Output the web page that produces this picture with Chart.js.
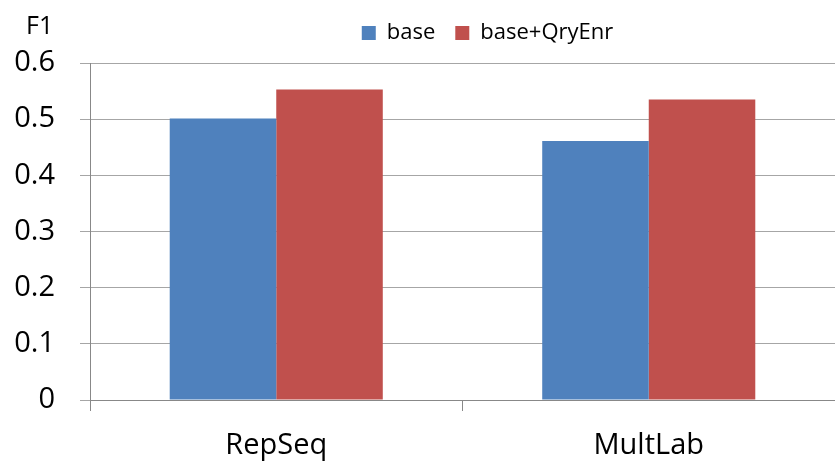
<!DOCTYPE html>
<html>
<head>
<meta charset="utf-8">
<script src="https://cdn.jsdelivr.net/npm/chart.js@4/dist/chart.umd.min.js"></script>
<style>
html,body{margin:0;padding:0;background:#fff;}
#wrap{width:835px;height:465px;position:relative;}
</style>
</head>
<body>
<div id="wrap"><canvas id="c"></canvas></div>
<script>
const categories = ['RepSeq', 'MultLab'];
const seriesNames = ['base', 'base+QryEnr'];
const baseValues = [0.501, 0.461];
const qryEnrValues = [0.553, 0.535];
const yAxisTitle = 'F1';

const FONT = '"Open Sans", "Liberation Sans", sans-serif';

const extras = {
  id: 'extras',
  beforeLayout(chart) {
    const l = chart.legend;
    if (l && !l._patched) {
      const orig = l.fit;
      l.fit = function () { orig.call(this); this.height += 9; };
      l._patched = true;
    }
  },
  afterLayout(chart) {
    const l = chart.legend;
    if (l) { l.left = 140; l.right = 835; }
  },
  afterDraw(chart) {
    const ctx = chart.ctx;
    ctx.save();
    ctx.font = '25px ' + FONT;
    ctx.fillStyle = '#000';
    ctx.textBaseline = 'alphabetic';
    ctx.textAlign = 'left';
    ctx.fillText(yAxisTitle, 26, 34);
    ctx.restore();
  }
};

new Chart(document.getElementById('c'), {
  type: 'bar',
  data: {
    labels: categories,
    datasets: [
      { label: seriesNames[0], data: baseValues, backgroundColor: '#4F81BD', borderWidth: 0 },
      { label: seriesNames[1], data: qryEnrValues, backgroundColor: '#C0504D', borderWidth: 0 }
    ]
  },
  options: {
    responsive: true,
    maintainAspectRatio: false,
    animation: false,
    devicePixelRatio: 1,
    layout: { padding: { top: 2, right: -3, left: 0, bottom: 0 } },
    datasets: { bar: { categoryPercentage: 0.572, barPercentage: 1 } },
    plugins: {
      tooltip: { enabled: false },
      legend: {
        position: 'top',
        align: 'center',
        labels: {
          font: { family: FONT, size: 22 },
          color: '#000',
          boxWidth: 14,
          boxHeight: 14,
          padding: 20
        }
      }
    },
    scales: {
      x: {
        offset: true,
        grid: { display: true, drawOnChartArea: false, offset: true, color: '#888', tickLength: 11 },
        border: { display: true, color: '#888', width: 1 },
        ticks: { font: { family: FONT, size: 29 }, color: '#000', padding: 17 },
        afterFit(scale) { scale.height = 65; }
      },
      y: {
        min: 0,
        max: 0.6,
        ticks: {
          stepSize: 0.1,
          font: { family: FONT, size: 29 },
          color: '#000',
          padding: 25,
          callback: (v) => (v === 0 ? '0' : Number(v).toFixed(1))
        },
        grid: { color: '#A6A6A6', tickLength: 10, lineWidth: 1 },
        border: { display: true, color: '#888', width: 1 },
        afterFit(scale) { scale.width = 90; }
      }
    }
  },
  plugins: [extras]
});
</script>
</body>
</html>
